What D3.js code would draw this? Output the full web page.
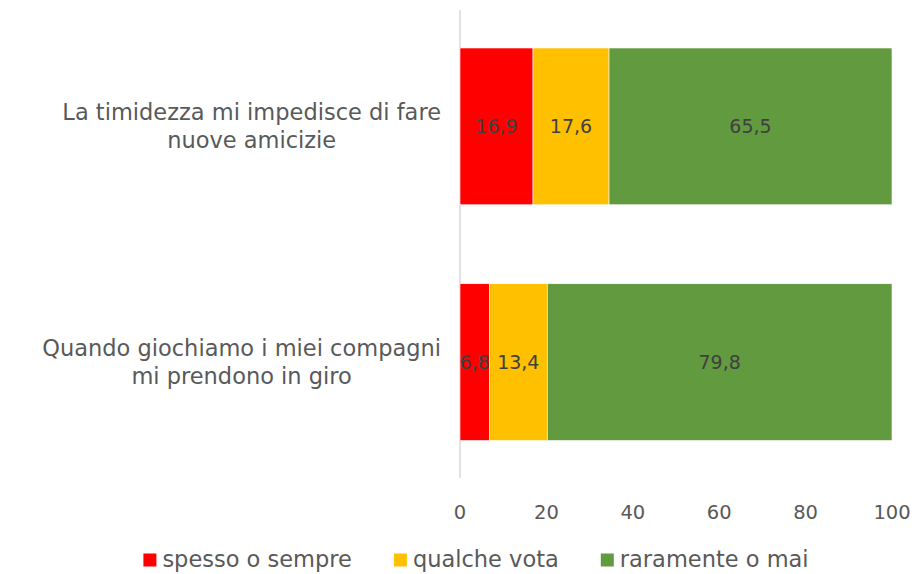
<!DOCTYPE html>
<html>
<head>
<meta charset="utf-8">
<script src="https://cdn.jsdelivr.net/npm/d3@7"></script>
<style>
	body { margin: 0; background: #fff; }
	text { font-family: "DejaVu Sans", sans-serif; }
	.cat-label { fill: #595959; font-size: 22.5px; }
	.tick-label { fill: #595959; font-size: 19.5px; }
	.value-label { fill: #404040; font-size: 19px; }
	.legend-text { fill: #595959; font-size: 22.5px; }
</style>
</head>
<body>
<svg id="chart" width="916" height="574"></svg>
<script>

var categories = [
	["La timidezza mi impedisce di fare", "nuove amicizie"],
	["Quando giochiamo i miei compagni", "mi prendono in giro"]
];
var seriesNames = ["spesso o sempre", "qualche vota", "raramente o mai"];
var seriesColors = ["#FF0000", "#FFC000", "#629A3F"];
var spesso = [16.9, 6.8];
var qualche = [17.6, 13.4];
var raramente = [65.5, 79.8];
var tickValues = [0, 20, 40, 60, 80, 100];

var svg = d3.select("#chart");

var x = d3.scaleLinear().domain([0, 100]).range([460, 892]);
var y = d3.scaleBand()
	.domain(d3.range(categories.length))
	.range([8.5, 480])
	.paddingInner(0.335)
	.paddingOuter(0.1675);

//Build the stack rows
var rows = categories.map(function(c, i) {
	return { idx: i, s0: spesso[i], s1: qualche[i], s2: raramente[i] };
});
var stack = d3.stack().keys(["s0", "s1", "s2"]);
var layers = stack(rows);

/////////////////////// Axis line //////////////////////////

svg.append("line")
	.attr("x1", x(0))
	.attr("x2", x(0))
	.attr("y1", 10)
	.attr("y2", 478)
	.style("stroke", "#D9D9D9")
	.style("stroke-width", 1.5);

/////////////////////// Bars //////////////////////////

var layer = svg.selectAll(".layer")
	.data(layers)
	.enter().append("g")
	.attr("class", "layer")
	.style("fill", function(d, i) { return seriesColors[i]; });

layer.selectAll("rect")
	.data(function(d) { return d; })
	.enter().append("rect")
	.attr("x", function(d) { return x(d[0]); })
	.attr("y", function(d) { return y(d.data.idx); })
	.attr("width", function(d) { return x(d[1]) - x(d[0]); })
	.attr("height", y.bandwidth())
	.style("stroke", "#ffffff")
	.style("stroke-width", 0.6);

//Value labels in the middle of each segment
layer.selectAll(".value-label")
	.data(function(d) { return d; })
	.enter().append("text")
	.attr("class", "value-label")
	.attr("x", function(d) { return x((d[0] + d[1]) / 2); })
	.attr("y", function(d) { return y(d.data.idx) + y.bandwidth() / 2; })
	.attr("dy", "0.35em")
	.style("text-anchor", "middle")
	.text(function(d) { return d3.format(".1f")(d[1] - d[0]).replace(".", ","); });

/////////////////////// Category labels //////////////////////////

var labelRight = 441;
categories.forEach(function(lines, i) {
	var g = svg.append("g").attr("class", "cat-group");
	var cy = y(i) + y.bandwidth() / 2;
	var lineH = 28;
	var texts = lines.map(function(l, j) {
		return g.append("text")
			.attr("class", "cat-label")
			.attr("y", cy + (j - (lines.length - 1) / 2) * lineH)
			.attr("dy", "0.35em")
			.style("text-anchor", "middle")
			.text(l);
	});
	var maxW = d3.max(texts, function(t) { return t.node().getComputedTextLength(); });
	texts.forEach(function(t) { t.attr("x", labelRight - maxW / 2); });
});

/////////////////////// Tick labels //////////////////////////

svg.selectAll(".tick-label")
	.data(tickValues)
	.enter().append("text")
	.attr("class", "tick-label")
	.attr("x", function(d) { return x(d); })
	.attr("y", 512)
	.attr("dy", "0.35em")
	.style("text-anchor", "middle")
	.text(function(d) { return d; });

/////////////////////// Legend //////////////////////////

var legendWrapper = svg.append("g").attr("class", "legendWrapper");
var rectSize = 13,
	legendGap = 42,
	legendY = 559;

var legendItems = legendWrapper.selectAll(".legend-item")
	.data(seriesNames)
	.enter().append("g")
	.attr("class", "legend-item");

legendItems.append("rect")
	.attr("y", legendY - rectSize / 2 + 1)
	.attr("width", rectSize)
	.attr("height", rectSize)
	.style("fill", function(d, i) { return seriesColors[i]; });

legendItems.append("text")
	.attr("class", "legend-text")
	.attr("x", rectSize + 6)
	.attr("y", legendY)
	.attr("dy", "0.35em")
	.text(function(d) { return d; });

//Position legend items next to each other, centred under the plot
var offsets = [], cur = 0;
legendItems.each(function() {
	offsets.push(cur);
	cur += this.getBBox().width + legendGap;
});
var totalW = cur - legendGap;
var legendStart = 476 - totalW / 2;
legendItems.attr("transform", function(d, i) { return "translate(" + (legendStart + offsets[i]) + ",0)"; });

</script>
</body>
</html>
